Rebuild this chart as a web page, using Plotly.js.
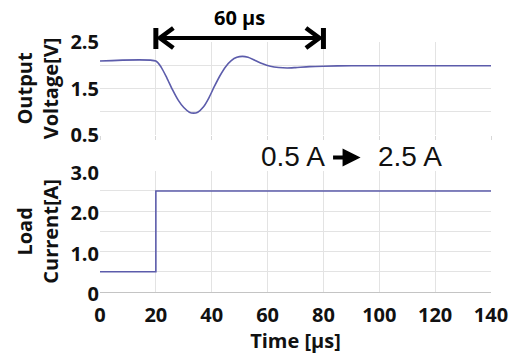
<!DOCTYPE html>
<html>
<head>
<meta charset="utf-8">
<script src="https://cdn.plot.ly/plotly-3.0.1.min.js"></script>
<style>html,body{margin:0;padding:0;background:#fff;}#chart{width:513px;height:354px;}</style>
</head>
<body>
<div id="chart"></div>
<script>
// Time axis (µs)
const timeTicks = [0, 20, 40, 60, 80, 100, 120, 140];
// Output voltage transient
const voltageTime = [0, 20, 22, 24, 26, 28, 30, 32, 33.5, 35, 37, 39, 41, 43, 45, 47, 49, 51, 53, 55, 58, 61, 64, 67, 70, 75, 80, 90, 100, 120, 140];
const voltageValues = [2.09, 2.09, 1.95, 1.72, 1.47, 1.25, 1.09, 0.99, 0.97, 0.99, 1.10, 1.30, 1.55, 1.78, 1.97, 2.10, 2.17, 2.19, 2.17, 2.12, 2.04, 1.98, 1.95, 1.94, 1.95, 1.97, 1.98, 1.99, 1.99, 1.99, 1.99];
// Load current step
const currentTime = [0, 20, 20, 140];
const currentValues = [0.5, 0.5, 2.5, 2.5];
// Y tick labels
const voltageTicks = [0.5, 1.5, 2.5];
const voltageTickText = ['0.5', '1.5', '2.5'];
const currentTicks = [0, 1, 2, 3];
const currentTickText = ['0', '1.0', '2.0', '3.0'];
// Annotation values
const spanStart = 20, spanEnd = 80, spanLabel = '60 µs';
const stepFrom = '0.5 A', stepTo = '2.5 A';

const lineColor = '#5c5cab';
const gridColor = '#e3e3e3';
const boldFont = {family: 'Open Sans, sans-serif', size: 20, color: '#111', weight: 'bold'};
const plainFont = {family: 'Liberation Sans, Arial, sans-serif', size: 28, color: '#111', weight: 'normal'};

const traces = [
  {x: voltageTime, y: voltageValues, xaxis: 'x2', yaxis: 'y2', mode: 'lines', line: {color: lineColor, width: 1.6, shape: 'spline', smoothing: 0.6}, hoverinfo: 'skip'},
  {x: currentTime, y: currentValues, xaxis: 'x', yaxis: 'y', mode: 'lines', line: {color: lineColor, width: 1.6}, hoverinfo: 'skip'}
];

// span arrow geometry (x in data units of time, y in paper units)
const pxX = 140 / 391, pxY = 1 / 250;
const arrowY = 1.016;
const tipL = spanStart + 2.5 * pxX, tipR = spanEnd - 2.5 * pxX;
const headLen = 15 * pxX, headHalf = 10 * pxY;

const layout = {
  width: 513, height: 354,
  margin: {l: 100, r: 22, t: 42, b: 62},
  paper_bgcolor: '#fff', plot_bgcolor: '#fff',
  showlegend: false,
  font: boldFont,
  xaxis: {
    anchor: 'y', range: [0, 140], tickvals: timeTicks, tickfont: boldFont,
    showgrid: true, gridcolor: gridColor, zeroline: false,
    showline: true, linecolor: '#c4c4c4', linewidth: 1, ticks: '', ticklabelstandoff: 5,
    title: {text: 'Time [µs]', font: boldFont, standoff: 0}
  },
  xaxis2: {
    anchor: 'y2', matches: 'x', range: [0, 140], tickvals: timeTicks, showticklabels: false,
    showgrid: true, gridcolor: gridColor, zeroline: false, showline: false,
    ticks: 'outside', ticklen: 4, tickcolor: '#d8d8d8'
  },
  yaxis: {
    domain: [0, 0.485], range: [0, 3], tickvals: currentTicks, ticktext: currentTickText,
    tickfont: boldFont, showgrid: true, gridcolor: gridColor, zeroline: false, showline: false,
    ticklabelshift: 2,
    minor: {dtick: 0.5, showgrid: true, gridcolor: gridColor},
    title: {text: 'Load<br>Current[A]', font: boldFont, standoff: 6}
  },
  yaxis2: {
    domain: [0.628, 1], range: [0.5, 2.5], tickvals: voltageTicks, ticktext: voltageTickText,
    tickfont: boldFont, showgrid: true, gridcolor: gridColor, zeroline: false, showline: false,
    minor: {dtick: 0.5, showgrid: true, gridcolor: gridColor},
    title: {text: 'Output<br>Voltage[V]', font: boldFont, standoff: 6}
  },
  shapes: [
    {type: 'line', xref: 'x2', yref: 'paper', x0: spanStart, x1: spanStart, y0: 0.972, y1: 1.056, line: {color: '#000', width: 5}},
    {type: 'line', xref: 'x2', yref: 'paper', x0: spanEnd, x1: spanEnd, y0: 0.972, y1: 1.056, line: {color: '#000', width: 5}},
    {type: 'line', xref: 'x2', yref: 'paper', x0: tipL + 1 * pxX, x1: tipR - 1 * pxX, y0: arrowY, y1: arrowY, line: {color: '#000', width: 4}},
    {type: 'path', xref: 'x2', yref: 'paper',
     path: `M ${tipL + headLen},${arrowY + headHalf} L ${tipL + 1.5 * pxX},${arrowY} L ${tipL + headLen},${arrowY - headHalf}`,
     line: {color: '#000', width: 4.5}},
    {type: 'path', xref: 'x2', yref: 'paper',
     path: `M ${tipR - headLen},${arrowY + headHalf} L ${tipR - 1.5 * pxX},${arrowY} L ${tipR - headLen},${arrowY - headHalf}`,
     line: {color: '#000', width: 4.5}}
  ],
  annotations: [
    {xref: 'x2', yref: 'paper', x: (spanStart + spanEnd) / 2, y: 1.096, yanchor: 'middle', text: spanLabel, showarrow: false,
     font: {family: 'Open Sans, sans-serif', size: 20, color: '#000', weight: 'bold'}},
    {xref: 'x', yref: 'paper', x: 69.1, y: 0.541, yanchor: 'middle', text: stepFrom, showarrow: false, font: plainFont},
    {xref: 'x', yref: 'paper', x: 93.3, y: 0.538, ax: -29, ay: 0,
     text: '', showarrow: true, arrowhead: 2, arrowwidth: 4, arrowsize: 0.9, arrowcolor: '#000'},
    {xref: 'x', yref: 'paper', x: 111.0, y: 0.541, yanchor: 'middle', text: stepTo, showarrow: false, font: plainFont}
  ]
};

Plotly.newPlot('chart', traces, layout, {staticPlot: true, displayModeBar: false});
</script>
</body>
</html>
